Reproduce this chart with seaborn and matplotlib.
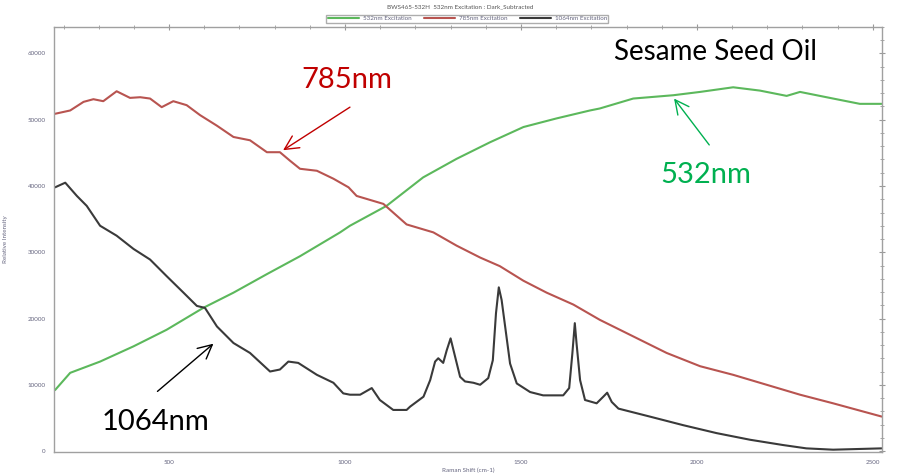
import pandas as pd
import matplotlib
matplotlib.use('Agg')
import matplotlib.pyplot as plt
import seaborn as sns
from matplotlib.ticker import MultipleLocator

# 532nm excitation (green)
x532 = [176, 219, 304, 399, 493, 597, 683, 778, 872, 986, 1014, 1118, 1222, 1317,
        1412, 1507, 1601, 1696, 1724, 1819, 1933, 2009, 2103, 2179, 2255, 2293,
        2387, 2463, 2525]
y532 = [9200, 11800, 13500, 15800, 18300, 21600, 23900, 26700, 29400, 33000, 34000,
        37000, 41300, 44100, 46600, 48900, 50200, 51400, 51700, 53200, 53700, 54200,
        54900, 54400, 53600, 54200, 53200, 52400, 52400]

# 785nm excitation (red)
x785 = [176, 219, 257, 285, 313, 351, 389, 418, 446, 479, 512, 550, 588, 636, 683,
        730, 778, 815, 844, 872, 920, 967, 1010, 1033, 1109, 1175, 1251, 1317, 1384,
        1440, 1507, 1573, 1649, 1724, 1819, 1914, 2009, 2103, 2198, 2293, 2387, 2525]
y785 = [50900, 51400, 52700, 53100, 52800, 54300, 53300, 53400, 53200, 51900, 52800,
        52200, 50700, 49100, 47400, 46900, 45100, 45100, 43800, 42600, 42300, 41100,
        39800, 38500, 37300, 34200, 33000, 31000, 29200, 27900, 25700, 23900, 22100,
        19800, 17300, 14800, 12800, 11500, 10000, 8500, 7200, 5200]

# 1064nm excitation (black)
x1064 = [176, 205, 238, 266, 304, 351, 399, 446, 493, 541, 579, 602, 636, 683, 730,
         787, 815, 839, 867, 920, 967, 995, 1014, 1043, 1076, 1099, 1137, 1175, 1185,
         1223, 1242, 1256, 1265, 1279, 1289, 1300, 1313, 1327, 1341, 1365, 1384, 1407,
         1420, 1429, 1437, 1445, 1455, 1469, 1488, 1526, 1563, 1620, 1637, 1646, 1653,
         1658, 1668, 1682, 1715, 1734, 1745, 1758, 1777, 1866, 1961, 2056, 2151, 2245,
         2311, 2387, 2525]
y1064 = [39800, 40500, 38500, 37000, 34000, 32500, 30500, 28900, 26400, 23900, 21900,
         21600, 18800, 16300, 14800, 12000, 12300, 13500, 13300, 11500, 10300, 8700,
         8500, 8500, 9500, 7700, 6200, 6200, 6700, 8200, 10700, 13500, 14000, 13300,
         15200, 17000, 14200, 11200, 10500, 10300, 10000, 11000, 13700, 20800, 24700,
         22800, 18800, 13200, 10200, 8900, 8400, 8400, 9500, 14700, 19300, 16200, 10700,
         7700, 7200, 8200, 8800, 7400, 6400, 5200, 3900, 2700, 1700, 900, 400, 200, 400]

series = ['532nm Excitation', '785nm Excitation', '1064nm Excitation']
colors = ['#5cb85c', '#b85450', '#3a3a3a']

frames = []
for name, xs, ys in zip(series, [x532, x785, x1064], [y532, y785, y1064]):
    frames.append(pd.DataFrame({'shift': xs, 'intensity': ys, 'laser': name}))
df = pd.concat(frames, ignore_index=True)

sns.set_style('white')
plt.rcParams['font.family'] = ['Lato', 'DejaVu Sans']

fig = plt.figure(figsize=(8.97, 4.76), dpi=100)
ax = fig.add_axes([0.0602, 0.0504, 0.9231, 0.8929])

sns.lineplot(data=df, x='shift', y='intensity', hue='laser', hue_order=series,
             palette=colors, estimator=None, sort=True, linewidth=1.5, ax=ax)

ax.set_xlim(173, 2526)
ax.set_ylim(-150, 64000)
ax.xaxis.set_major_locator(MultipleLocator(500))
ax.xaxis.set_minor_locator(MultipleLocator(100))
ax.yaxis.set_major_locator(MultipleLocator(10000))
ax.yaxis.set_minor_locator(MultipleLocator(2000))
ax.tick_params(which='both', direction='inout', color='#999999', top=True, right=True,
               labeltop=False, labelright=False)
ax.tick_params(which='major', length=5, width=0.8, labelsize=4.5, labelcolor='#666680')
ax.tick_params(which='minor', length=3, width=0.6)
for sp in ax.spines.values():
    sp.set_color('#a0a0a0')
    sp.set_linewidth(1.0)

ax.set_xlabel('Raman Shift (cm-1)', fontsize=4.5, color='#666680', labelpad=2)
ax.set_ylabel('Relative Intensity', fontsize=4.5, color='#666680', labelpad=14)

ax.legend(loc='center', bbox_to_anchor=(0.521, 0.961), bbox_transform=fig.transFigure,
          ncol=3, fontsize=4.5, frameon=True, fancybox=False, edgecolor='#999999',
          handlelength=5, borderpad=0.2, columnspacing=2, handletextpad=0.6,
          labelcolor='#666680')
fig.text(0.513, 0.985, 'BWS465-532H  532nm Excitation : Dark_Subtracted', ha='center',
         va='center', fontsize=4.5, color='#555555')

# annotations: labels and arrows (tail -> head)
ax.text(2054, 60200, 'Sesame Seed Oil', fontsize=20, color='black', ha='center', va='center')
ax.text(1005, 56000, '785nm', fontsize=21, color='#c00000', ha='center', va='center')
ax.text(2026, 41600, '532nm', fontsize=21, color='#00b050', ha='center', va='center')
ax.text(462, 4400, '1064nm', fontsize=21, color='black', ha='center', va='center')

arrows = [((1014, 51900), (824, 45400), '#c00000'),
          ((2035, 46200), (1935, 53200), '#00b050'),
          ((467, 9000), (626, 16200), 'black')]
for tail, head, c in arrows:
    ax.annotate('', xy=head, xytext=tail,
                arrowprops=dict(arrowstyle='->', color=c, lw=1, mutation_scale=25,
                                shrinkA=0, shrinkB=0))

fig.savefig('out.png', dpi=100)
